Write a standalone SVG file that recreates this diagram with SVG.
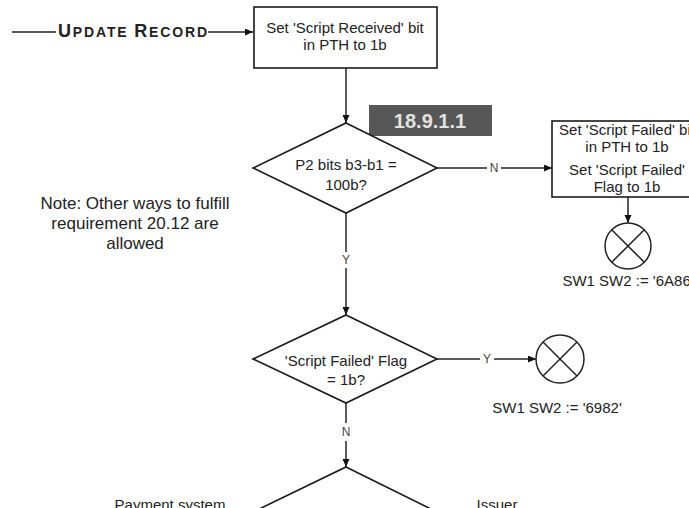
<svg xmlns="http://www.w3.org/2000/svg" width="689" height="508" viewBox="0 0 689 508">
<style>
  text { font-family: "Liberation Sans", Arial, sans-serif; fill: #222; }
  .t { font-size: 15px; text-anchor: middle; }
  .note { font-size: 17px; text-anchor: middle; }
  .lbl { font-size: 12px; text-anchor: middle; fill: #444; }
  .shape { fill: #fff; stroke: #1a1a1a; stroke-width: 1.6; }
  .conn { fill: none; stroke: #222; stroke-width: 1.5; }
  .term { fill: #fff; stroke: #222; stroke-width: 1.5; }
</style>
<defs>
  <marker id="arr" markerWidth="9" markerHeight="8" refX="8" refY="3.5" orient="auto" markerUnits="userSpaceOnUse">
    <path d="M0,0 L8,3.5 L0,7 z" fill="#111"/>
  </marker>
</defs>

<g id="connectors">
  <line class="conn" x1="12" y1="32" x2="56" y2="32"/>
  <line class="conn" x1="208" y1="32" x2="253" y2="32" marker-end="url(#arr)"/>
  <line class="conn" x1="346" y1="68" x2="346" y2="123" marker-end="url(#arr)"/>
  <line class="conn" x1="437" y1="168" x2="487" y2="168"/>
  <line class="conn" x1="501" y1="168" x2="552" y2="168" marker-end="url(#arr)"/>
  <line class="conn" x1="628" y1="197" x2="628" y2="223" marker-end="url(#arr)"/>
  <line class="conn" x1="346" y1="213" x2="346" y2="252"/>
  <line class="conn" x1="346" y1="268" x2="346" y2="315" marker-end="url(#arr)"/>
  <line class="conn" x1="437" y1="359" x2="480" y2="359"/>
  <line class="conn" x1="494" y1="359" x2="536" y2="359" marker-end="url(#arr)"/>
  <line class="conn" x1="346" y1="403" x2="346" y2="423"/>
  <line class="conn" x1="346" y1="441" x2="346" y2="467" marker-end="url(#arr)"/>
  <text class="lbl" x="494" y="172">N</text>
  <text class="lbl" x="346" y="264">Y</text>
  <text class="lbl" x="487" y="363">Y</text>
  <text class="lbl" x="346" y="436">N</text>
</g>

<g id="start">
  <text x="58" y="37" font-weight="bold" textLength="149" lengthAdjust="spacing"><tspan font-size="18">U</tspan><tspan font-size="14">PDATE </tspan><tspan font-size="18">R</tspan><tspan font-size="14">ECORD</tspan></text>
</g>

<g id="set-received">
  <rect class="shape" x="254" y="7" width="183" height="61"/>
  <text class="t" x="345" y="33">Set 'Script Received' bit</text>
  <text class="t" x="345" y="50">in PTH to 1b</text>
</g>

<g id="ref-label">
  <rect x="369" y="105" width="123" height="31" fill="#575757"/>
  <text x="430" y="128" font-size="20" font-weight="bold" text-anchor="middle" style="fill:#e2e2e2">18.9.1.1</text>
</g>

<g id="decision-p2">
  <polygon class="shape" points="346,123 437,168 346,213 253,168"/>
  <text class="t" x="346" y="170">P2 bits b3-b1 =</text>
  <text class="t" x="346" y="190">100b?</text>
</g>

<g id="set-failed">
  <rect class="shape" x="552" y="121" width="150" height="76"/>
  <text class="t" x="627" y="135">Set 'Script Failed' bit</text>
  <text class="t" x="627" y="152">in PTH to 1b</text>
  <text class="t" x="627" y="175">Set 'Script Failed'</text>
  <text class="t" x="627" y="192">Flag to 1b</text>
</g>

<g id="end-6a86">
  <circle class="term" cx="628" cy="246" r="23"/>
  <path class="conn" d="M611.7,229.7 L644.3,262.3 M644.3,229.7 L611.7,262.3"/>
  <text class="t" x="628" y="286">SW1 SW2 := '6A86'</text>
</g>

<g id="note">
  <text class="note" x="135" y="209">Note: Other ways to fulfill</text>
  <text class="note" x="135" y="229">requirement 20.12 are</text>
  <text class="note" x="135" y="249">allowed</text>
</g>

<g id="decision-flag">
  <polygon class="shape" points="346,315 437,359 346,403 253,359"/>
  <text class="t" x="346" y="366">'Script Failed' Flag</text>
  <text class="t" x="346" y="385">= 1b?</text>
</g>

<g id="end-6982">
  <circle class="term" cx="560" cy="359" r="24"/>
  <path class="conn" d="M543,342 L577,376 M577,342 L543,376"/>
  <text class="t" x="557" y="413">SW1 SW2 := '6982'</text>
</g>

<g id="decision-sfi">
  <polygon class="shape" points="346,467 437,512 346,557 253,512"/>
  <text class="t" x="170" y="510">Payment system</text>
  <text class="t" x="497" y="510">Issuer</text>
</g>
</svg>
